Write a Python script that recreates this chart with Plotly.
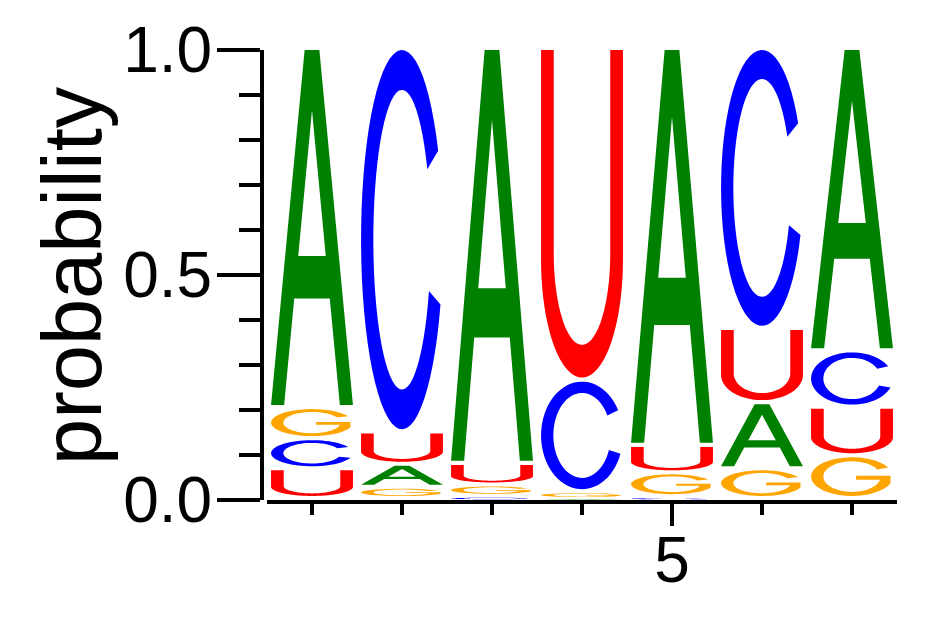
import numpy as np
import plotly.graph_objects as go

# sequence logo: probability of each base at each position
positions = [1, 2, 3, 4, 5, 6, 7]
bases = ["A", "C", "G", "U"]
prob_A = [0.798, 0.051, 0.922, 0.002, 0.882, 0.147, 0.672]
prob_C = [0.067, 0.852, 0.005, 0.248, 0.004, 0.622, 0.125]
prob_G = [0.069, 0.025, 0.025, 0.013, 0.053, 0.066, 0.095]
prob_U = [0.066, 0.072, 0.048, 0.737, 0.061, 0.165, 0.108]

colors = {"A": "#008000", "C": "#0000ff", "G": "#ffa500", "U": "#ff0000"}
probs = {"A": prob_A, "C": prob_C, "G": prob_G, "U": prob_U}

letter_w = 0.91
pad = 0.009


def arc(cx, cy, rx, ry, a0, a1, n=60):
    t = np.radians(np.linspace(a0, a1, n))
    return list(zip(cx + rx * np.cos(t), cy + ry * np.sin(t)))


# glyph outlines in a unit box, each a list of closed polygons
def glyph(ch):
    if ch == "A":
        outer = [(0, 0), (0.41, 1), (0.59, 1), (1, 0), (0.84, 0),
                 (0.717, 0.30), (0.283, 0.30), (0.16, 0)]
        hole = [(0.332, 0.42), (0.668, 0.42), (0.5, 0.83)]
        return [outer, hole]
    if ch == "C":
        pts = arc(0.5, 0.5, 0.5, 0.5, 28, 340)
        pts += arc(0.5, 0.5, 0.35, 0.395, 340, 28)
        return [pts]
    if ch == "G":
        pts = arc(0.5, 0.5, 0.5, 0.5, 28, 340)
        pts += [(0.97, 0.52), (0.55, 0.52), (0.55, 0.42), (0.84, 0.42)]
        pts += arc(0.5, 0.5, 0.35, 0.395, 346.3, 28)
        return [pts]
    # U
    t = 0.155
    pts = [(0, 1)]
    pts += arc(0.5, 0.36, 0.5, 0.36, 180, 360)
    pts += [(1, 1), (1 - t, 1)]
    pts += arc(0.5, 0.38, 0.5 - t, 0.28, 360, 180)
    pts += [(t, 1)]
    return [pts]


shapes = []
for i, pos in enumerate(positions):
    order = sorted(bases, key=lambda b: probs[b][i])
    bottom = 0.0
    for b in order:
        h = probs[b][i]
        y0 = bottom + min(pad, 0.35 * h)
        y1 = bottom + h
        path = ""
        for poly in glyph(b):
            pts = [(pos - letter_w / 2 + u * letter_w, y0 + v * (y1 - y0)) for u, v in poly]
            path += "M" + "L".join(f"{x:.5f},{y:.5f}" for x, y in pts) + "Z"
        shapes.append(dict(type="path", path=path, xref="x", yref="y",
                           fillcolor=colors[b], line=dict(width=0),
                           fillrule="evenodd", layer="above"))
        bottom += h

fig = go.Figure()
fig.add_trace(go.Scatter(x=positions, y=[None] * len(positions), showlegend=False,
                         hoverinfo="skip"))

font = "Liberation Sans, Arial, sans-serif"
# the page body adds an 8px offset, so margins are shifted by that much
ml, mt = 254, 42
fig.update_layout(
    width=942, height=617,
    margin=dict(l=ml, r=53, t=mt, b=125),
    paper_bgcolor="white", plot_bgcolor="white",
    shapes=shapes,
    font=dict(family=font, color="black"),
    xaxis=dict(domain=[5 / 635, 1], range=[0.5, 7.5], showgrid=False, zeroline=False,
               automargin=False,
               showline=True, linecolor="black", linewidth=4,
               ticks="outside", tickvals=[5], ticktext=["5"], ticklen=22, tickwidth=4,
               tickcolor="black", tickfont=dict(size=64, family=font),
               ticklabelstandoff=-21,
               minor=dict(tickvals=[1, 2, 3, 4, 6, 7], ticks="outside", ticklen=11,
                          tickwidth=4, tickcolor="black")),
    yaxis=dict(anchor="free", position=0, range=[0, 1], showgrid=False, zeroline=False,
               automargin=False,
               showline=True, linecolor="black", linewidth=4,
               ticks="outside", tickvals=[0, 0.5, 1], ticktext=["0.0", "0.5", "1.0"],
               ticklen=43, tickwidth=4, tickcolor="black",
               tickfont=dict(size=64, family=font), ticklabelstandoff=-8,
               minor=dict(tickvals=[0.1, 0.2, 0.3, 0.4, 0.6, 0.7, 0.8, 0.9],
                          ticks="outside", ticklen=21, tickwidth=4, tickcolor="black")),
    annotations=[dict(text="probability", textangle=-90, showarrow=False,
                      xref="paper", yref="paper", x=(64 - ml) / 635, y=0.5,
                      xanchor="center", yanchor="middle",
                      font=dict(size=83, family=font, color="black"))],
)

fig.write_html("out.html")
